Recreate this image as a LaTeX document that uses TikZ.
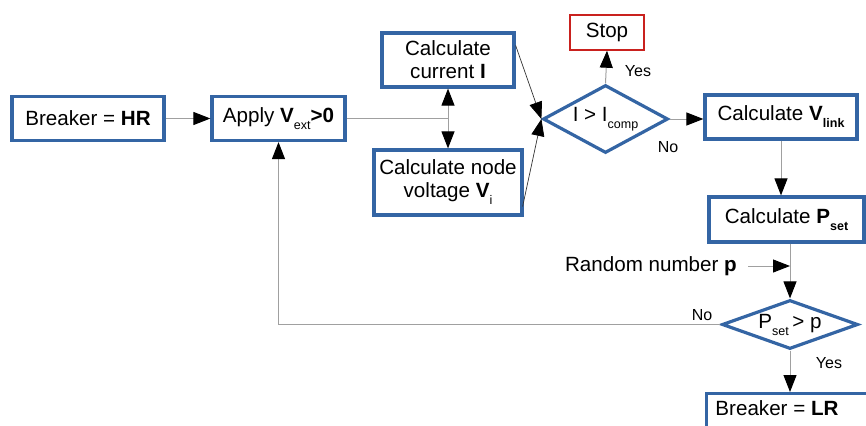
\documentclass[tikz,border=0pt]{standalone}
\usepackage{fontspec}
\setmainfont{Liberation Sans}
\usetikzlibrary{shapes.geometric,arrows.meta}
\definecolor{bbl}{HTML}{3465A4}
\definecolor{rd}{HTML}{C9211E}
\definecolor{ln}{HTML}{A0A0A0}
\newcommand\subs[1]{\raisebox{-7pt}{\fontsize{12.5}{12.5}\selectfont #1}}
\begin{document}
\begin{tikzpicture}[x=1pt,y=-1pt,
  box/.style={draw=bbl, line width=3.2pt, rectangle, inner sep=0pt, align=center, font=\fontsize{20.6}{23}\selectfont},
  stopbox/.style={draw=rd, line width=1.5pt, rectangle, inner sep=0pt, align=center, font=\fontsize{20.6}{23}\selectfont},
  dia/.style={draw=bbl, line width=3.2pt, diamond, inner sep=0pt, align=center, font=\fontsize{20.6}{23}\selectfont},
  plain/.style={inner sep=0pt, font=\fontsize{20.6}{23}\selectfont},
  lbl/.style={inner sep=0pt, font=\fontsize{16}{18}\selectfont},
  line/.style={draw=ln, line width=1pt},
  arr/.style={line, -{Triangle[length=17pt,width=13pt,color=black]}},
  darr/.style={draw=black!80, line width=0.7pt, -{Triangle[length=17pt,width=13pt,color=black]}},
  barr/.style={line, {Triangle[length=17pt,width=13pt,color=black]}-{Triangle[length=17pt,width=13pt,color=black]}}
]
\useasboundingbox (0,0) rectangle (866,425);

\node[box, minimum width=152pt, minimum height=44pt] (hr) at (88,118.5) {Breaker = \textbf{HR}};
\node[box, minimum width=133pt, minimum height=44pt] (apply) at (278.5,118.5) {Apply \textbf{V}\subs{ext}\textbf{>0}};
\node[box, minimum width=132pt, minimum height=54pt] (cur) at (448,60) {Calculate\\current \textbf{I}};
\node[box, minimum width=148pt, minimum height=65pt] (nv) at (448,182.5) {Calculate node\\voltage \textbf{V}\subs{i}};
\node[dia, minimum width=125pt, minimum height=68pt, aspect=1.84] (d1) at (605.5,119) {I > I\subs{comp}};
\node[stopbox, minimum width=74pt, minimum height=35pt] (stop) at (607,32.5) {Stop};
\node[box, minimum width=152pt, minimum height=44pt] (vlink) at (781,117) {Calculate \textbf{V}\subs{\textbf{link}}};
\node[box, minimum width=155pt, minimum height=45pt] (pset) at (786.5,219.5) {Calculate \textbf{P}\subs{\textbf{set}}};
\node[dia, minimum width=136pt, minimum height=49pt, aspect=2.78] (d2) at (790,324.5) {P\subs{set}\,> p};
\node[plain, anchor=east] (rnd) at (737,266) {Random number \textbf{p}};
\coordinate (rndend) at (748,266);
\node[box, minimum width=180pt, minimum height=60pt, anchor=north west] (lr) at (705,392) {};
\node[plain] (lrt) at (777,408) {Breaker = \textbf{LR}};

\node[lbl] (yes1) at (638,71) {Yes};
\node[lbl] (no1) at (668,147) {No};
\node[lbl] (no2) at (702,315) {No};
\node[lbl] (yes2) at (829,363) {Yes};

\draw[arr] (hr) -- (apply);
\draw[line] (apply.east) -- (apply.east -| cur.south);
\draw[barr] (cur.south) -- (nv.north);
\draw[darr] ([yshift=-14pt]cur.north east) -- (d1.west);
\draw[darr] ([xshift=-1pt,yshift=10pt]nv.south east) -- (d1.west);
\draw[arr] (d1.north) -- (stop.south);
\draw[arr] (d1.east) -- (d1.east -| vlink.west);
\draw[arr] (vlink.south) -- (vlink.south |- pset.north);
\draw[arr] (pset.south -| d2.north) -- (d2.north);
\draw[arr] (rndend) -- (rndend -| d2.north);
\draw[arr] (d2.west) -| (apply.south);
\draw[arr] (d2.south) -- (d2.south |- lr.north);
\end{tikzpicture}
\end{document}
